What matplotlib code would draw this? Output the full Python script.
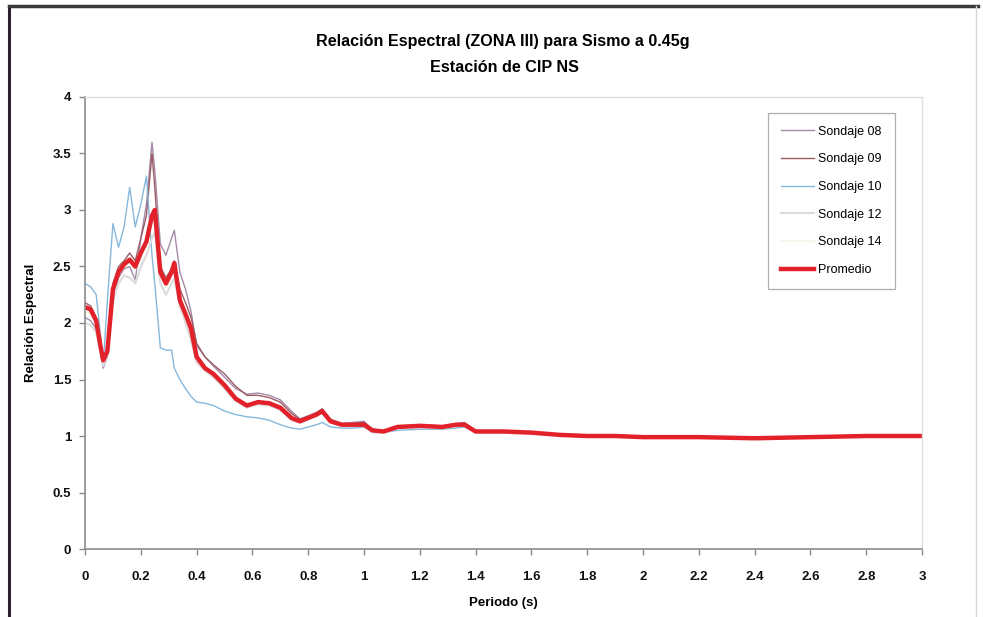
import numpy as np
import matplotlib.pyplot as plt
from matplotlib.lines import Line2D

# Periodo (s)
periodo = [0, 0.02, 0.04, 0.055, 0.065, 0.08, 0.1, 0.12, 0.14, 0.16, 0.18, 0.2,
           0.22, 0.24, 0.25, 0.27, 0.29, 0.31, 0.32, 0.34, 0.36, 0.38, 0.40, 0.43,
           0.46, 0.50, 0.54, 0.58, 0.62, 0.66, 0.70, 0.74, 0.77, 0.80, 0.83, 0.85,
           0.88, 0.92, 0.96, 1.0, 1.03, 1.07, 1.12, 1.2, 1.28, 1.33, 1.36, 1.40,
           1.5, 1.6, 1.7, 1.8, 1.9, 2.0, 2.2, 2.4, 2.6, 2.8, 3.0]

sondaje_08 = [2.05, 2.02, 1.95, 1.75, 1.60, 1.70, 2.25, 2.40, 2.48, 2.50, 2.38, 2.75,
              3.05, 3.60, 3.35, 2.70, 2.60, 2.75, 2.82, 2.45, 2.30, 2.10, 1.80, 1.70,
              1.62, 1.52, 1.42, 1.37, 1.38, 1.36, 1.32, 1.22, 1.15, 1.18, 1.21, 1.24,
              1.15, 1.11, 1.12, 1.13, 1.06, 1.05, 1.08, 1.10, 1.09, 1.11, 1.12, 1.05,
              1.04, 1.03, 1.01, 1.00, 1.00, 0.99, 0.99, 0.98, 0.99, 1.00, 1.00]

sondaje_09 = [2.18, 2.15, 2.05, 1.82, 1.65, 1.78, 2.35, 2.50, 2.55, 2.62, 2.55, 2.75,
              2.95, 3.50, 3.20, 2.50, 2.40, 2.48, 2.55, 2.30, 2.18, 2.05, 1.82, 1.70,
              1.63, 1.55, 1.44, 1.36, 1.36, 1.34, 1.30, 1.20, 1.15, 1.17, 1.20, 1.24,
              1.14, 1.10, 1.11, 1.12, 1.05, 1.04, 1.08, 1.09, 1.08, 1.10, 1.11, 1.04,
              1.04, 1.03, 1.01, 1.00, 1.00, 0.99, 0.99, 0.98, 0.99, 1.00, 1.00]

sondaje_10 = [2.35, 2.32, 2.25, 1.90, 1.62, 2.20, 2.88, 2.67, 2.85, 3.20, 2.85, 3.05,
              3.30, 2.60, 2.35, 1.78, 1.76, 1.76, 1.60, 1.50, 1.42, 1.35, 1.30, 1.29,
              1.27, 1.22, 1.19, 1.17, 1.16, 1.14, 1.10, 1.07, 1.06, 1.08, 1.10, 1.12,
              1.08, 1.07, 1.07, 1.08, 1.03, 1.03, 1.05, 1.06, 1.06, 1.07, 1.08, 1.03,
              1.03, 1.02, 1.01, 1.00, 1.00, 0.99, 0.99, 0.98, 0.99, 1.00, 1.00]

sondaje_12 = [2.00, 1.98, 1.92, 1.75, 1.62, 1.72, 2.20, 2.35, 2.42, 2.40, 2.35, 2.50,
              2.60, 2.75, 2.80, 2.35, 2.25, 2.35, 2.40, 2.15, 2.00, 1.85, 1.65, 1.58,
              1.52, 1.42, 1.31, 1.25, 1.28, 1.27, 1.23, 1.14, 1.12, 1.15, 1.18, 1.21,
              1.12, 1.09, 1.09, 1.09, 1.04, 1.03, 1.07, 1.08, 1.07, 1.09, 1.09, 1.03,
              1.03, 1.02, 1.01, 1.00, 1.00, 0.99, 0.99, 0.98, 0.99, 1.00, 1.00]

sondaje_14 = [2.10, 2.08, 2.00, 1.78, 1.66, 1.74, 2.28, 2.44, 2.50, 2.55, 2.48, 2.60,
              2.70, 2.90, 2.95, 2.42, 2.32, 2.42, 2.50, 2.18, 2.06, 1.93, 1.68, 1.59,
              1.54, 1.44, 1.32, 1.26, 1.29, 1.28, 1.24, 1.15, 1.12, 1.15, 1.18, 1.21,
              1.12, 1.09, 1.09, 1.09, 1.04, 1.03, 1.07, 1.08, 1.07, 1.09, 1.09, 1.03,
              1.03, 1.02, 1.01, 1.00, 1.00, 0.99, 0.99, 0.98, 0.99, 1.00, 1.00]

promedio = [2.14, 2.12, 2.02, 1.80, 1.67, 1.75, 2.30, 2.45, 2.52, 2.56, 2.50, 2.62,
            2.72, 2.95, 3.00, 2.45, 2.35, 2.45, 2.53, 2.20, 2.08, 1.95, 1.70, 1.60,
            1.55, 1.45, 1.33, 1.27, 1.30, 1.29, 1.25, 1.16, 1.13, 1.16, 1.19, 1.22,
            1.13, 1.10, 1.10, 1.10, 1.05, 1.04, 1.08, 1.09, 1.08, 1.10, 1.10, 1.04,
            1.04, 1.03, 1.01, 1.00, 1.00, 0.99, 0.99, 0.98, 0.99, 1.00, 1.00]

series = [
    ("Sondaje 08", sondaje_08, "#a58aa8", 1.0),
    ("Sondaje 09", sondaje_09, "#9c5c64", 1.0),
    ("Sondaje 10", sondaje_10, "#86b8dc", 1.0),
    ("Sondaje 12", sondaje_12, "#dcdcdc", 1.6),
    ("Sondaje 14", sondaje_14, "#f7f4ea", 1.6),
]

plt.rcParams['font.family'] = ['Liberation Sans', 'DejaVu Sans']

fig = plt.figure(figsize=(9.83, 6.17), dpi=100)
ax = fig.add_axes([0.0865, 0.1102, 0.8515, 0.7326])

for nombre, valores, color, lw in series:
    ax.plot(periodo, valores, '-', color=color, lw=lw, label=nombre)
ax.plot(periodo, promedio, '-', color="#e3212b", lw=3.2, label="Promedio")

ax.set_xlim(0, 3)
ax.set_ylim(0, 4)
ax.set_xticks(np.arange(0, 3.01, 0.2))
ax.set_xticklabels(["0", "0.2", "0.4", "0.6", "0.8", "1", "1.2", "1.4", "1.6",
                    "1.8", "2", "2.2", "2.4", "2.6", "2.8", "3"])
ax.set_yticks(np.arange(0, 4.01, 0.5))
ax.set_yticklabels(["0", "0.5", "1", "1.5", "2", "2.5", "3", "3.5", "4"])

for lab in ax.get_xticklabels() + ax.get_yticklabels():
    lab.set_fontweight('bold')
    lab.set_fontsize(9.5)
ax.tick_params(axis='both', colors='#8a8a8a', labelcolor='#111111',
               length=4, width=1, direction='out')
ax.tick_params(axis='x', pad=12)
ax.tick_params(axis='y', pad=6)

for lado in ['left', 'bottom']:
    ax.spines[lado].set_color('#8c8c8c')
    ax.spines[lado].set_linewidth(1.2)
for lado in ['top', 'right']:
    ax.spines[lado].set_color('#dedede')
    ax.spines[lado].set_linewidth(1.0)

ax.set_xlabel("Periodo (s)", fontsize=9.5, fontweight='bold', labelpad=10)
ax.set_ylabel("Relación Espectral", fontsize=9.5, fontweight='bold', labelpad=11)

fig.text(0.511, 0.932, "Relación Espectral (ZONA III) para Sismo a 0.45g",
         ha='center', va='center', fontsize=11.6, fontweight='bold')
fig.text(0.513, 0.890, "Estación de CIP NS", ha='center', va='center',
         fontsize=11.6, fontweight='bold')

leg = ax.legend(loc='upper left', bbox_to_anchor=(0.808, 0.979), fontsize=9,
                frameon=True, fancybox=False, handlelength=2.7,
                handletextpad=0.3, labelspacing=1.25, borderpad=1.05)
leg.get_frame().set_edgecolor('#9a9a9a')
leg.get_frame().set_linewidth(0.9)

# marco exterior del gráfico
fig.add_artist(Line2D([0.009, 0.009], [0.0, 0.99], transform=fig.transFigure,
                      color='#2a2030', lw=2.2))
fig.add_artist(Line2D([0.009, 0.995], [0.99, 0.99], transform=fig.transFigure,
                      color='#3a3a3a', lw=2.5))
fig.add_artist(Line2D([0.993, 0.993], [0.0, 0.99], transform=fig.transFigure,
                      color='#d8d8d8', lw=1.0))

fig.savefig("out.png", dpi=100)
